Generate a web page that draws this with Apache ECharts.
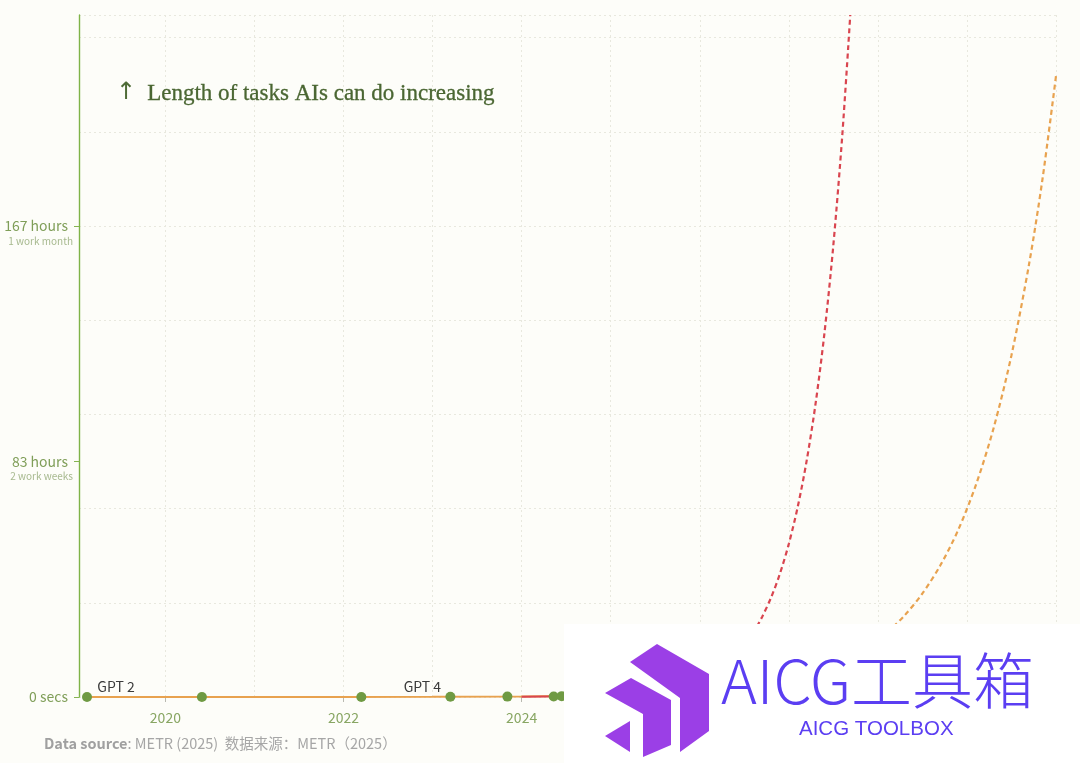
<!DOCTYPE html>
<html><head><meta charset="utf-8">
<script src="https://cdn.jsdelivr.net/npm/echarts@6/dist/echarts.min.js"></script>
<style>html,body{margin:0;padding:0;background:#fdfdf9}#c{width:1080px;height:763px}</style>
</head><body><div id="c"></div>
<script>
// ---- data (hours on y, decimal year on x) ----
const modelNames = ['GPT 2','GPT 3','GPT 3.5','GPT 4','GPT 4 1106','GPT 4o','Claude 3.5 Sonnet'];
const modelYears = [2019.12, 2020.41, 2022.20, 2023.20, 2023.84, 2024.36, 2024.45];
const modelHours = [0.0006, 0.0025, 0.01, 0.08, 0.14, 0.15, 0.3];
const modelLabels = ['GPT 2', '', '', 'GPT 4', '', '', ''];

const orangeSolidYears = [2019.11, 2020, 2021, 2022, 2023, 2024, 2025];
const orangeSolidHours = [0.0006, 0.002, 0.007, 0.02, 0.06, 0.17, 0.56];
const orangeDashYears = [2025, 2026, 2027, 2027.5, 2028, 2028.1, 2028.3, 2028.5, 2028.7, 2028.9, 2029.1, 2029.3, 2029.5, 2029.7, 2029.85, 2030.0];
const orangeDashHours = [0.56, 1.85, 6.1, 11.1, 20.2, 22.7, 28.9, 36.7, 46.6, 59.1, 75.1, 95.4, 121.2, 153.9, 184.0, 220.2];

const redSolidYears = [2024.0, 2024.5, 2025.0];
const redSolidHours = [0.083, 0.25, 0.71];
const redDashYears = [2025.0, 2025.5, 2026.0, 2026.25, 2026.5, 2026.6, 2026.7, 2026.8, 2026.9, 2027.0, 2027.1, 2027.2, 2027.3, 2027.4, 2027.5, 2027.6, 2027.69];
const redDashHours = [0.71, 2.1, 6.2, 11.0, 18.4, 22.8, 28.4, 35.2, 43.7, 54.3, 67.4, 83.7, 103.9, 129.0, 160.2, 199.0, 241.8];

const xGridYears = [2020, 2021, 2022, 2023, 2024, 2025, 2026, 2027, 2028, 2029, 2030];
const xLabelYears = [2020, 2022, 2024, 2026, 2028, 2030];
const yLabelValues = [0, 83.5, 167];
const yLabelMain = ['0 secs', '83 hours', '167 hours'];
const yLabelSub = ['', '2 work weeks', '1 work month'];

// ---- styling ----
const SANS = '"Noto Sans CJK SC", "Source Sans Pro", "Noto Sans", sans-serif';
const GREEN = '#6f9a43';
const ORANGE = '#e8a24f';
const RED = '#d9454f';
const GRIDC = '#e8e8de';
const labelOffsets = { 'GPT 2': [29, 4], 'GPT 4': [-28, 4] };

const zip = (a, b) => a.map((v, i) => [v, b[i]]);

const chart = echarts.init(document.getElementById('c'), null, { renderer: 'canvas' });

const scatterData = modelYears.map((y, i) => {
  const item = { name: modelNames[i], value: [y, modelHours[i]] };
  if (modelLabels[i]) {
    item.label = { show: true, formatter: modelLabels[i], offset: labelOffsets[modelLabels[i]] };
  }
  return item;
});

const option = {
  backgroundColor: '#fdfdf9',
  animation: false,
  grid: { left: 79, right: 24, top: 15, bottom: 66, containLabel: false },
  xAxis: [
    {
      type: 'value', position: 'bottom', min: 2019.03, max: 2030,
      axisLine: { show: false },
      axisTick: { show: false, customValues: xGridYears },
      axisLabel: { show: false },
      splitLine: { show: true, lineStyle: { color: GRIDC, type: [2, 3], width: 1 } }
    },
    {
      type: 'value', position: 'bottom', min: 2019.03, max: 2030,
      axisLine: { show: false },
      axisTick: { show: true, customValues: xLabelYears, length: 5, lineStyle: { color: '#b9b9b0' } },
      axisLabel: { show: true, customValues: xLabelYears, margin: 14, color: '#88a663', fontSize: 14, fontFamily: SANS,
        formatter: v => String(Math.round(v)) },
      splitLine: { show: false }
    }
  ],
  yAxis: [
    {
      type: 'value', position: 'left', min: 0, max: 241.8, interval: 33.4,
      axisLine: { show: true, lineStyle: { color: '#7fb348', width: 1.4 } },
      axisTick: { show: false },
      axisLabel: { show: false },
      splitLine: { show: true, lineStyle: { color: GRIDC, type: [2, 3], width: 1 } }
    },
    {
      type: 'value', position: 'left', min: 0, max: 241.8,
      axisLine: { show: false },
      axisTick: { show: true, customValues: yLabelValues, length: 5, lineStyle: { color: '#86b453' } },
      axisLabel: {
        show: true, customValues: yLabelValues, margin: 6, align: 'right',
        formatter: v => {
          let i = 0, best = Infinity;
          yLabelValues.forEach((c, k) => { if (Math.abs(c - v) < best) { best = Math.abs(c - v); i = k; } });
          if (!yLabelSub[i]) return '{a|' + yLabelMain[i] + '}';
          return '{s| }\n{a|' + yLabelMain[i] + '}\n{b|' + yLabelSub[i] + '}';
        },
        rich: {
          a: { color: '#7f9e58', fontSize: 14, fontFamily: SANS, lineHeight: 16, align: 'right', padding: [0, 5, 0, 0] },
          b: { color: '#a7b98f', fontSize: 10, fontFamily: SANS, lineHeight: 14, align: 'right' },
          s: { color: 'rgba(0,0,0,0)', fontSize: 10, lineHeight: 14 }
        }
      },
      splitLine: { show: false }
    }
  ],
  series: [
    { type: 'line', data: zip(orangeSolidYears, orangeSolidHours), showSymbol: false, symbol: 'none',
      lineStyle: { color: ORANGE, width: 2 }, z: 2 },
    { type: 'line', data: zip(orangeDashYears, orangeDashHours), showSymbol: false, symbol: 'none', smooth: 0.3,
      lineStyle: { color: ORANGE, width: 2.2, type: [5, 3.5] }, z: 2 },
    { type: 'line', data: zip(redSolidYears, redSolidHours), showSymbol: false, symbol: 'none',
      lineStyle: { color: RED, width: 2 }, z: 3 },
    { type: 'line', data: zip(redDashYears, redDashHours), showSymbol: false, symbol: 'none', smooth: 0.3,
      lineStyle: { color: RED, width: 2.2, type: [5, 3.5] }, z: 3 },
    { type: 'scatter', data: scatterData, symbolSize: 10, itemStyle: { color: GREEN, opacity: 1 }, z: 5,
      label: { show: false, position: 'top', distance: 2, color: '#3c3c3c', fontSize: 14, fontFamily: SANS } }
  ],
  graphic: [
    { type: 'text', left: 116, top: 81, z: 10,
      style: { text: '↑', font: '24px "DejaVu Sans", sans-serif', fill: '#4e6b36' } },
    { type: 'text', left: 147, top: 82, z: 10,
      style: { text: 'Length of tasks AIs can do increasing', font: '23px "Liberation Serif", serif', fill: '#4a6632',
        stroke: '#4a6632', lineWidth: 0.3 } },
    { type: 'text', left: 44, top: 736, z: 10,
      style: { text: '{b|Data source}{n|: METR (2025)  数据来源：METR（2025）}',
        rich: { b: { font: 'bold 14.5px ' + SANS, fill: '#a0a0a0' }, n: { font: '14.5px ' + SANS, fill: '#a6a6a6' } } } },
    // overlay box (watermark in reference)
    { type: 'rect', shape: { x: 564, y: 624, width: 520, height: 145 }, style: { fill: '#ffffff' }, z: 20 },
    { type: 'polygon', z: 21, shape: { points: [[630,662],[657,644],[709,674],[709,731],[680,752],[680,698]] }, style: { fill: '#9b3fe6' } },
    { type: 'polygon', z: 21, shape: { points: [[605,693],[631,678],[671,700],[671,745],[643,757],[643,714]] }, style: { fill: '#9b3fe6' } },
    { type: 'polygon', z: 21, shape: { points: [[605,736],[630,721],[630,752]] }, style: { fill: '#9b3fe6' } },
    { type: 'text', left: 721, top: 650, z: 21,
      style: { text: 'AICG工具箱', font: '300 61px "Noto Sans CJK SC", sans-serif', fill: '#5b3ef2' } },
    { type: 'text', left: 799, top: 719, z: 21,
      style: { text: 'AICG TOOLBOX', font: '20.5px "Liberation Sans", sans-serif', fill: '#5b3ef2' } }
  ]
};
chart.setOption(option);
</script>
</body></html>
